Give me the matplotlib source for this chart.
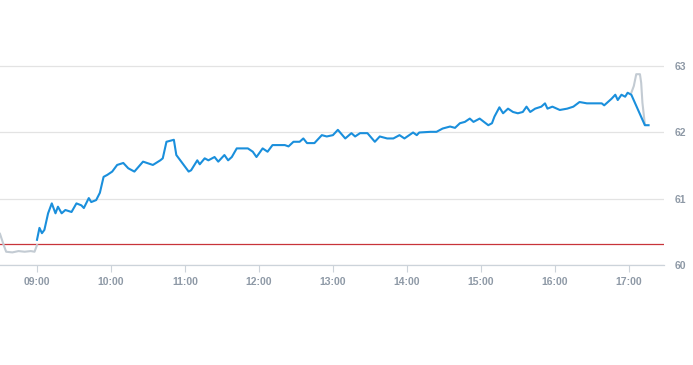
import pandas as pd
import matplotlib
matplotlib.use("Agg")
import matplotlib.pyplot as plt
import matplotlib.dates as mdates

# ----------- DATA -----------
day = "2024-01-02 "

# pre-market (grey)
pre_times = ["08:28", "08:30", "08:33", "08:35", "08:40", "08:45", "08:50",
             "08:55", "08:58", "09:00"]
pre_prices = [60.52, 60.47, 60.30, 60.20, 60.19, 60.21, 60.20, 60.21, 60.20, 60.30]

# regular session (blue)
main_times = ["09:00", "09:02", "09:04", "09:06", "09:09", "09:12", "09:15", "09:17",
              "09:20", "09:23", "09:28", "09:32", "09:36", "09:38", "09:42", "09:44",
              "09:48", "09:51", "09:54", "09:57", "10:01", "10:05", "10:10", "10:14",
              "10:19", "10:26", "10:34", "10:40", "10:42", "10:45", "10:51", "10:53",
              "10:57", "11:03", "11:05", "11:10", "11:12", "11:16", "11:19", "11:24",
              "11:27", "11:32", "11:35", "11:38", "11:42", "11:51", "11:55", "11:58",
              "12:03", "12:07", "12:11", "12:21", "12:24", "12:28", "12:33", "12:36",
              "12:39", "12:45", "12:51", "12:55", "13:00", "13:04", "13:10", "13:15",
              "13:18", "13:22", "13:28", "13:34", "13:38", "13:44", "13:49", "13:54",
              "13:58", "14:05", "14:08", "14:10", "14:19", "14:24", "14:29", "14:35",
              "14:39", "14:43", "14:47", "14:51", "14:54", "14:59", "15:06", "15:09",
              "15:11", "15:15", "15:18", "15:22", "15:26", "15:30", "15:34", "15:37",
              "15:40", "15:44", "15:49", "15:52", "15:54", "15:58", "16:04", "16:10",
              "16:15", "16:20", "16:26", "16:31", "16:38", "16:40", "16:46", "16:49",
              "16:51", "16:54", "16:57", "16:59", "17:02", "17:13", "17:16"]
main_prices = [60.38, 60.56, 60.48, 60.53, 60.78, 60.93, 60.78, 60.88,
               60.78, 60.83, 60.80, 60.93, 60.90, 60.86, 61.01, 60.95,
               60.98, 61.09, 61.33, 61.36, 61.41, 61.51, 61.54, 61.46,
               61.41, 61.56, 61.51, 61.58, 61.61, 61.86, 61.89, 61.66,
               61.56, 61.41, 61.43, 61.58, 61.52, 61.61, 61.58, 61.63,
               61.56, 61.66, 61.58, 61.63, 61.76, 61.76, 61.71, 61.63,
               61.76, 61.71, 61.81, 61.81, 61.79, 61.86, 61.86, 61.91,
               61.84, 61.84, 61.96, 61.94, 61.96, 62.04, 61.91, 61.99,
               61.94, 61.99, 61.99, 61.86, 61.94, 61.91, 61.91, 61.96,
               61.91, 62.00, 61.96, 62.00, 62.01, 62.01, 62.06, 62.09,
               62.07, 62.14, 62.16, 62.21, 62.16, 62.21, 62.11, 62.14,
               62.24, 62.38, 62.29, 62.36, 62.31, 62.29, 62.31, 62.39,
               62.31, 62.36, 62.39, 62.44, 62.36, 62.39, 62.34, 62.36,
               62.39, 62.46, 62.44, 62.44, 62.44, 62.41, 62.51, 62.57,
               62.49, 62.57, 62.54, 62.60, 62.57, 62.11, 62.11]

# post-market (grey)
post_times = ["17:02", "17:04", "17:06", "17:09", "17:10", "17:11", "17:13"]
post_prices = [62.60, 62.70, 62.88, 62.88, 62.75, 62.45, 62.12]

prev_close = 60.31

y_ticks = [60, 61, 62, 63]


def to_dt(times):
    return pd.to_datetime([day + t for t in times])


# ----------- PLOT -----------
fig = plt.figure(figsize=(6.93, 3.65), dpi=100)
ax = fig.add_axes([0.0, 0.274, 0.958, 0.726])

ax.axhline(prev_close, color="#c8343a", lw=0.9, zorder=2)
ax.plot(to_dt(pre_times), pre_prices, color="#c3cbd3", lw=1.5, zorder=3)
ax.plot(to_dt(post_times), post_prices, color="#c3cbd3", lw=1.5, zorder=3)
ax.plot(to_dt(main_times), main_prices, color="#1a8fdc", lw=1.5, zorder=4)

ax.set_xlim(pd.Timestamp(day + "08:30"), pd.Timestamp(day + "17:28:25"))
ax.set_ylim(60, 64)

ax.xaxis.set_major_locator(mdates.HourLocator(byhour=range(9, 18)))
ax.xaxis.set_major_formatter(mdates.DateFormatter("%H:%M"))
ax.set_yticks(y_ticks)
ax.yaxis.tick_right()

ax.grid(axis="y", color="#e3e3e3", lw=0.9)
ax.set_axisbelow(True)
for s in ["top", "left", "right"]:
    ax.spines[s].set_visible(False)
ax.spines["bottom"].set_color("#ccd3da")
ax.spines["bottom"].set_linewidth(0.9)

# tick labels: small bold grey
lab = dict(fontfamily="Liberation Sans", fontweight="bold", fontsize=7.5)
ax.tick_params(axis="x", length=5, color="#ccd3da", labelcolor="#8e99a6", pad=4)
ax.tick_params(axis="y", length=0, labelcolor="#8e99a6", pad=8)
for t in ax.get_xticklabels() + ax.get_yticklabels():
    t.set(**lab)

fig.savefig("out.png", dpi=100)
